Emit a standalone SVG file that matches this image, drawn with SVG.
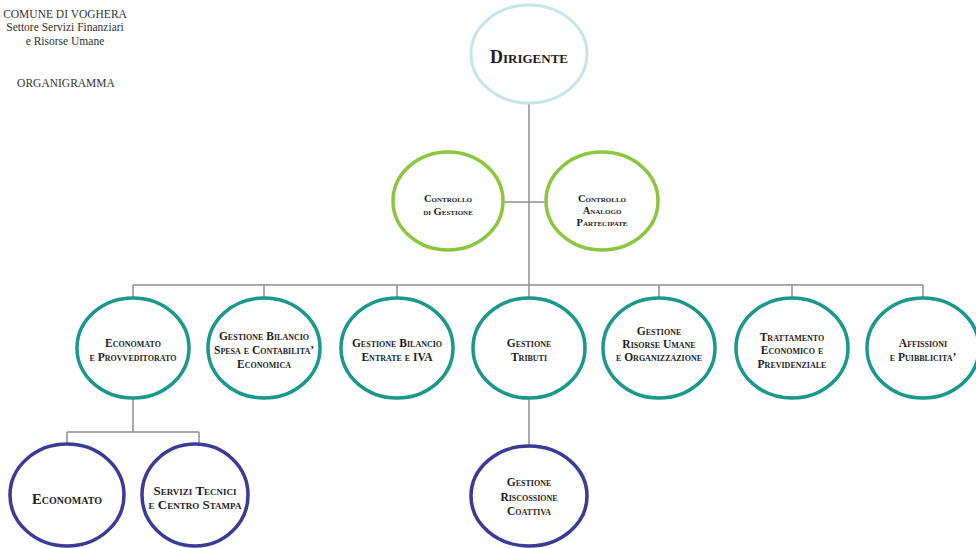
<svg xmlns="http://www.w3.org/2000/svg" width="976" height="548" viewBox="0 0 976 548">
  <style>
    .hdr { font-family: "Liberation Serif", "Times New Roman", serif; font-size: 11.5px; fill: #333; text-anchor: middle; }
    .lbl { font-family: "Liberation Serif", "Times New Roman", serif; font-weight: bold; font-variant: small-caps; fill: #1e1e1e; text-anchor: middle; }
    .l1 { font-size: 18px; }
    .l2 { font-size: 10.5px; }
    .l3 { font-size: 11.5px; }
    .l4 { font-size: 11.5px; }
    .l4b { font-size: 13px; }
    .big { font-size: 14.5px; }
    .n1 { fill: #fff; stroke: #c6e5e6; stroke-width: 3; }
    .n2 { fill: #fff; stroke: #8cc63f; stroke-width: 3.5; }
    .n3 { fill: #fff; stroke: #1b988c; stroke-width: 3.5; }
    .n4 { fill: #fff; stroke: #3b3a96; stroke-width: 3.5; }
    .conn { fill: none; stroke: #8f8f8f; stroke-width: 1.5; }
  </style>
  <rect width="976" height="548" fill="#fff"/>

  <!-- header -->
  <g id="header">
    <text class="hdr" x="65" y="18">COMUNE DI VOGHERA</text>
    <text class="hdr" x="65" y="31">Settore Servizi Finanziari</text>
    <text class="hdr" x="65" y="45">e Risorse Umane</text>
    <text class="hdr" x="66" y="87">ORGANIGRAMMA</text>
  </g>

  <!-- connectors -->
  <g id="connectors" class="conn">
    <path d="M529 103 V298"/>
    <path d="M503 202 H546"/>
    <path d="M133 285 H923"/>
    <path d="M133 285 V298 M264 285 V298 M397 285 V298 M659 285 V298 M792 285 V298 M923 285 V298"/>
    <path d="M133 398 V432 M67 432 H199 M67 432 V444 M199 432 V444"/>
    <path d="M529 398 V446"/>
  </g>

  <!-- level 1 -->
  <g id="dirigente">
    <ellipse class="n1" cx="529" cy="54" rx="58" ry="49"/>
    <text class="lbl l1" x="529" y="63">Dirigente</text>
  </g>

  <!-- level 2 -->
  <g id="controllo-gestione">
    <ellipse class="n2" cx="448" cy="201" rx="55" ry="49"/>
    <text class="lbl l2" x="448" y="202">Controllo</text>
    <text class="lbl l2" x="448" y="215">di Gestione</text>
  </g>
  <g id="controllo-analogo">
    <ellipse class="n2" cx="602" cy="201" rx="56" ry="49"/>
    <text class="lbl l2" x="602" y="202">Controllo</text>
    <text class="lbl l2" x="602" y="214">Analogo</text>
    <text class="lbl l2" x="602" y="226">Partecipate</text>
  </g>

  <!-- level 3 -->
  <g id="economato-provveditorato">
    <ellipse class="n3" cx="133" cy="348" rx="56" ry="50"/>
    <text class="lbl l3" x="133" y="347">Economato</text>
    <text class="lbl l3" x="133" y="361">e Provveditorato</text>
  </g>
  <g id="bilancio-spesa">
    <ellipse class="n3" cx="264" cy="348" rx="56" ry="50"/>
    <text class="lbl l3" x="264" y="340">Gestione Bilancio</text>
    <text class="lbl l3" x="264" y="354">Spesa e Contabilita’</text>
    <text class="lbl l3" x="264" y="368">Economica</text>
  </g>
  <g id="bilancio-entrate">
    <ellipse class="n3" cx="397" cy="348" rx="56" ry="50"/>
    <text class="lbl l3" x="397" y="347">Gestione Bilancio</text>
    <text class="lbl l3" x="397" y="361">Entrate e IVA</text>
  </g>
  <g id="tributi">
    <ellipse class="n3" cx="529" cy="348" rx="56" ry="50"/>
    <text class="lbl l3" x="529" y="347">Gestione</text>
    <text class="lbl l3" x="529" y="361">Tributi</text>
  </g>
  <g id="risorse-umane">
    <ellipse class="n3" cx="659" cy="348" rx="56" ry="50"/>
    <text class="lbl l3" x="659" y="335">Gestione</text>
    <text class="lbl l3" x="659" y="348">Risorse Umane</text>
    <text class="lbl l3" x="659" y="361">e Organizzazione</text>
  </g>
  <g id="trattamento">
    <ellipse class="n3" cx="792" cy="348" rx="56" ry="50"/>
    <text class="lbl l3" x="792" y="341">Trattamento</text>
    <text class="lbl l3" x="792" y="354">Economico e</text>
    <text class="lbl l3" x="792" y="368">Previdenziale</text>
  </g>
  <g id="affissioni">
    <ellipse class="n3" cx="923" cy="348" rx="56" ry="50"/>
    <text class="lbl l3" x="923" y="347">Affissioni</text>
    <text class="lbl l3" x="923" y="361">e Puibblicita’</text>
  </g>

  <!-- level 4 -->
  <g id="economato">
    <ellipse class="n4" cx="67" cy="495" rx="57" ry="51"/>
    <text class="lbl big" x="67" y="504">Economato</text>
  </g>
  <g id="servizi-tecnici">
    <ellipse class="n4" cx="195" cy="495" rx="53" ry="51"/>
    <text class="lbl l4b" x="195" y="495">Servizi Tecnici</text>
    <text class="lbl l4b" x="195" y="509">e Centro Stampa</text>
  </g>
  <g id="riscossione-coattiva">
    <ellipse class="n4" cx="529" cy="496" rx="58" ry="50"/>
    <text class="lbl l4" x="529" y="486">Gestione</text>
    <text class="lbl l4" x="529" y="501">Riscossione</text>
    <text class="lbl l4" x="529" y="515">Coattiva</text>
  </g>
</svg>
